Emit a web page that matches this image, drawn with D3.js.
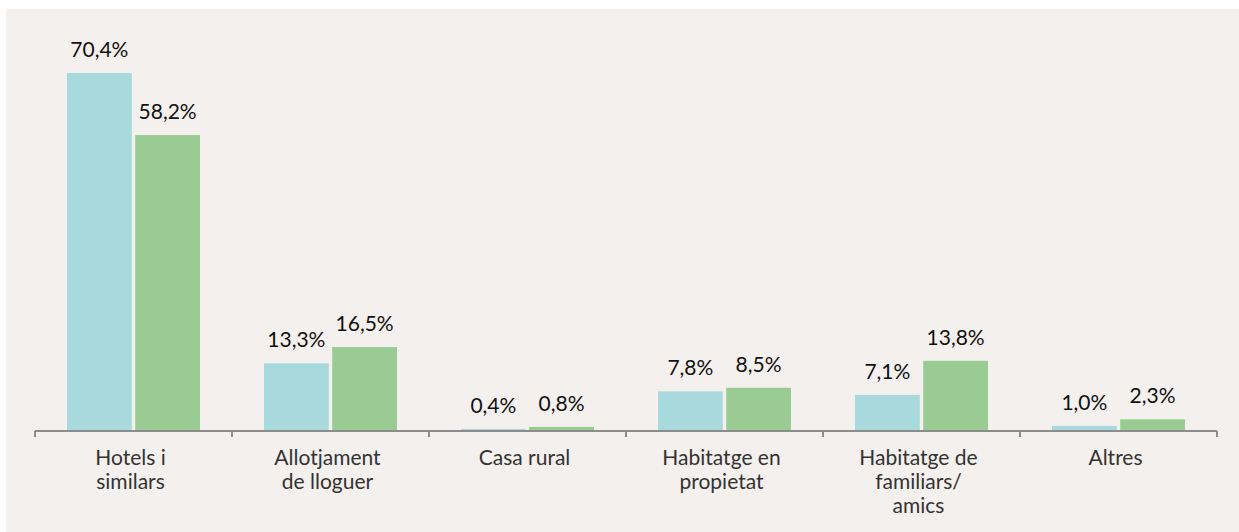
<!DOCTYPE html>
<html>
<head>
<meta charset="utf-8">
<script src="https://d3js.org/d3.v7.min.js"></script>
<style>
  body { margin: 0; background: #ffffff; }
  svg { display: block; }
  text { font-family: Lato, "Open Sans", sans-serif; }
</style>
</head>
<body>
<div id="chart"></div>
<script>
// categories (lines split for wrapped labels)
const categories = ["Hotels i similars", "Allotjament de lloguer", "Casa rural",
                    "Habitatge en propietat", "Habitatge de familiars/ amics", "Altres"];
const labelLines = [["Hotels i", "similars"], ["Allotjament", "de lloguer"], ["Casa rural"],
                    ["Habitatge en", "propietat"], ["Habitatge de", "familiars/", "amics"], ["Altres"]];
const series1 = [70.4, 13.3, 0.4, 7.8, 7.1, 1.0];
const series2 = [58.2, 16.5, 0.8, 8.5, 13.8, 2.3];
const colors = ["#a8d9dc", "#9acb93"];

const W = 1239, H = 532;
const margin = {top: 73, left: 35, right: 22, bottom: 101};
const width = W - margin.left - margin.right;
const height = H - margin.top - margin.bottom;

const svg = d3.select("#chart").append("svg")
    .attr("width", W).attr("height", H);

svg.append("rect")
    .attr("x", 6).attr("y", 9)
    .attr("width", W - 6).attr("height", H - 9)
    .attr("fill", "#f4f0ed");

const g = svg.append("g")
    .attr("transform", "translate(" + margin.left + "," + margin.top + ")");

const x0 = d3.scaleBand().domain(categories).range([0, width]).padding(0);
const x1 = d3.scaleBand().domain([0, 1])
    .range([32, 165]).paddingInner(0.05);
const y = d3.scaleLinear().domain([0, 70.4]).range([height, 0]);

const data = categories.map((c, i) => ({cat: c, vals: [series1[i], series2[i]]}));

const groups = g.selectAll(".grp").data(data).enter().append("g")
    .attr("transform", d => "translate(" + x0(d.cat) + ",0)");

groups.selectAll("rect")
    .data(d => d.vals.map((v, k) => ({v: v, k: k})))
    .enter().append("rect")
    .attr("x", d => x1(d.k))
    .attr("width", x1.bandwidth())
    .attr("y", d => y(d.v))
    .attr("height", d => height - y(d.v))
    .attr("fill", d => colors[d.k]);

groups.selectAll(".lbl")
    .data(d => d.vals.map((v, k) => ({v: v, k: k})))
    .enter().append("text")
    .attr("x", d => x1(d.k) + x1.bandwidth() / 2)
    .attr("y", d => y(d.v) - 16)
    .attr("text-anchor", "middle")
    .attr("font-size", 21)
    .attr("fill", "#111")
    .text(d => d.v.toFixed(1).replace(".", ",") + "%");

// axis line with ticks at category boundaries
const axis = g.append("g").attr("transform", "translate(0," + height + ")");
axis.append("line")
    .attr("x1", 0).attr("x2", width)
    .attr("stroke", "#8c8c8c").attr("stroke-width", 2);
const bounds = categories.map(c => x0(c)).concat([width]);
axis.selectAll(".tick").data(bounds).enter().append("line")
    .attr("x1", d => d).attr("x2", d => d)
    .attr("y1", 0).attr("y2", 6)
    .attr("stroke", "#8c8c8c").attr("stroke-width", 2);

labelLines.forEach((lines, i) => {
    const cx = x0(categories[i]) + x0.bandwidth() / 2 - 3;
    const t = axis.append("text")
        .attr("x", cx)
        .attr("y", 34)
        .attr("text-anchor", "middle")
        .attr("font-size", 21)
        .attr("fill", "#333");
    lines.forEach((l, j) => {
        t.append("tspan")
            .attr("x", cx)
            .attr("dy", j === 0 ? 0 : 24)
            .text(l);
    });
});
</script>
</body>
</html>
